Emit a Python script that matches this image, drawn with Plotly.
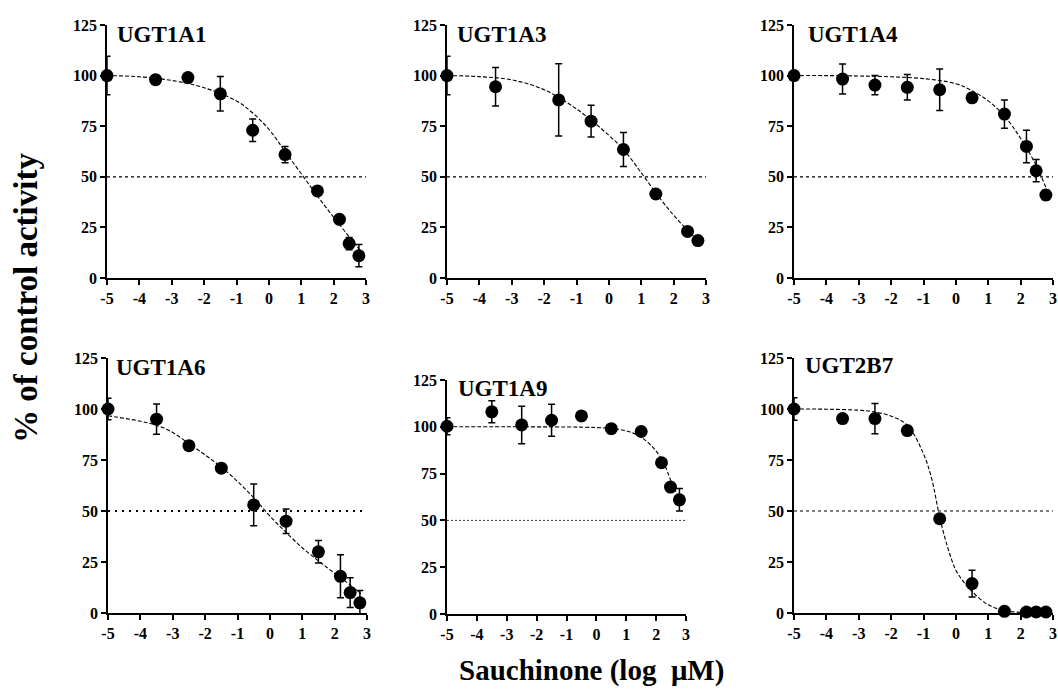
import plotly.graph_objects as go

W, H = 1058, 693

# ---------------- data ----------------
panel_names = ["UGT1A1", "UGT1A3", "UGT1A4", "UGT1A6", "UGT1A9", "UGT2B7"]

x_1a1 = [-5, -3.5, -2.5, -1.5, -0.5, 0.5, 1.5, 2.18, 2.48, 2.78]
y_1a1 = [100, 98, 99, 91, 73, 61, 43, 29, 17, 11]
e_1a1 = [9.5, 2, 1, 8.5, 5.5, 4, 1.5, 1.5, 3, 5.5]
fx_1a1 = [-5, -4, -3, -2, -1, -0.5, 0, 0.5, 1, 1.5, 2, 2.5, 2.85]
fy_1a1 = [100, 99.4, 97.6, 94, 87.5, 81.5, 73.5, 62.5, 51.5, 40.5, 30, 20, 13]

x_1a3 = [-5, -3.5, -1.55, -0.55, 0.45, 1.45, 2.43, 2.75]
y_1a3 = [100, 94.5, 88, 77.5, 63.5, 41.5, 23, 18.5]
e_1a3 = [9.5, 9.5, 17.8, 7.8, 8.4, 1, 1, 1]
fx_1a3 = [-5, -4, -3, -2, -1, 0, 0.5, 1, 1.5, 2, 2.5, 2.8]
fy_1a3 = [100, 99.5, 97.9, 93, 83.5, 70.5, 62.5, 52, 41, 31, 22.5, 18]

x_1a4 = [-5, -3.5, -2.5, -1.5, -0.5, 0.5, 1.5, 2.18, 2.48, 2.78]
y_1a4 = [100, 98.3, 95.3, 94.2, 93, 89, 81, 65, 53, 41]
e_1a4 = [0.5, 7.4, 4.8, 6.3, 10.3, 1, 7, 8, 5.5, 2.5]
fx_1a4 = [-5, -4, -3, -2, -1, 0, 0.5, 1, 1.5, 2, 2.5, 2.85]
fy_1a4 = [100, 100, 99.8, 99.4, 98.5, 96, 92.5, 87.5, 80, 69, 55, 42]

x_1a6 = [-5, -3.5, -2.5, -1.5, -0.5, 0.5, 1.5, 2.18, 2.48, 2.78]
y_1a6 = [100, 95, 82, 71, 53, 45, 30, 18, 10, 5]
e_1a6 = [5.3, 7.4, 1, 2, 10.2, 6, 5.5, 10.5, 7.3, 6]
fx_1a6 = [-5, -4, -3.5, -3, -2.5, -2, -1.5, -1, -0.5, 0, 0.5, 1, 1.5, 2, 2.5, 2.85]
fy_1a6 = [96.7, 94, 92, 88.5, 83, 77.5, 71.5, 64.5, 56.5, 47.5, 39.5, 32, 25.5, 19.5, 13.5, 9]

x_1a9 = [-5, -3.5, -2.5, -1.5, -0.5, 0.5, 1.5, 2.18, 2.48, 2.78]
y_1a9 = [100.3, 108, 101, 103.5, 105.8, 99, 97.5, 80.8, 67.8, 61]
e_1a9 = [4.6, 5.9, 10, 8.5, 1, 1, 1, 1, 1, 6]
fx_1a9 = [-5, -3, -1, 0, 0.5, 1, 1.5, 2, 2.3, 2.5, 2.8]
fy_1a9 = [100, 100, 99.9, 99.6, 99.1, 97.8, 94.5, 87, 79, 71, 61]

x_2b7 = [-5, -3.5, -2.5, -1.5, -0.5, 0.5, 1.5, 2.18, 2.48, 2.78]
y_2b7 = [100, 95.3, 95.3, 89.4, 46.2, 14.4, 0.8, 0.5, 0.5, 0.5]
e_2b7 = [5.5, 1, 7.4, 2, 1, 6.5, 0.5, 0.5, 0.5, 0.5]
fx_2b7 = [-5, -4, -3, -2.5, -2, -1.5, -1, -0.75, -0.5, -0.25, 0, 0.25, 0.5, 1, 1.5, 2, 2.8]
fy_2b7 = [100, 99.9, 99.4, 98.5, 96.5, 92, 78, 66, 47, 32, 21, 15, 10.5, 4, 1.2, 0.3, 0]

half_activity = 50
x_ticks = [-5, -4, -3, -2, -1, 0, 1, 2, 3]
y_ticks = [0, 25, 50, 75, 100, 125]
x_title = "Sauchinone (log  \u03bcM)"
y_title = "% of control activity"

panels = [
    (x_1a1, y_1a1, e_1a1, fx_1a1, fy_1a1),
    (x_1a3, y_1a3, e_1a3, fx_1a3, fy_1a3),
    (x_1a4, y_1a4, e_1a4, fx_1a4, fy_1a4),
    (x_1a6, y_1a6, e_1a6, fx_1a6, fy_1a6),
    (x_1a9, y_1a9, e_1a9, fx_1a9, fy_1a9),
    (x_2b7, y_2b7, e_2b7, fx_2b7, fy_2b7),
]

# ---------------- layout geometry (pixels) ----------------
# (left, right, top(y=125), bottom(y=0))
boxes = [
    (107, 366, 25, 278),
    (447, 706, 25, 278),
    (794, 1053, 25, 278),
    (108, 367, 358, 613),
    (447, 686, 380, 614),
    (794, 1053, 358, 613),
]
title_pos = [(115, 35), (455, 35), (806, 35), (114, 367), (456, 388), (803, 365)]
ref_styles = [
    dict(dash="3px,3px", width=1.2),
    dict(dash="3px,3px", width=1.2),
    dict(dash="3px,3px", width=1.2),
    dict(dash="2px,5px", width=2.0),
    dict(dash="2px,2px", width=0.8),
    dict(dash="3px,3px", width=1.2),
]

FONT = "Liberation Serif, Times New Roman, serif"

fig = go.Figure()
layout = dict(
    width=W, height=H,
    margin=dict(l=0, r=0, t=0, b=0),
    paper_bgcolor="white", plot_bgcolor="white",
    showlegend=False,
    font=dict(family=FONT, color="black"),
)

annotations = []
for i, (px, py, pe, fx, fy) in enumerate(panels):
    k = i + 1
    xa = "x" if k == 1 else f"x{k}"
    ya = "y" if k == 1 else f"y{k}"
    l, r, t, b = boxes[i]
    xdom = [l / W, r / W]
    ydom = [1 - b / H, 1 - t / H]
    axis_common = dict(
        showline=True, linecolor="black", linewidth=1.5,
        ticks="outside", ticklen=5, tickwidth=1.5, tickcolor="black",
        showgrid=False, zeroline=False, automargin=False,
        tickfont=dict(family=FONT, size=16, color="black", weight="bold"),
    )
    layout["xaxis" if k == 1 else f"xaxis{k}"] = dict(
        domain=xdom, range=[-5, 3], anchor=ya, tickvals=x_ticks,
        ticktext=[str(v) for v in x_ticks], **axis_common)
    layout["yaxis" if k == 1 else f"yaxis{k}"] = dict(
        domain=ydom, range=[0, 125], anchor=xa, tickvals=y_ticks,
        ticktext=[str(v) for v in y_ticks], **axis_common)

    # fitted curve
    fig.add_trace(go.Scatter(
        x=fx, y=fy, xaxis=xa, yaxis=ya, mode="lines",
        line=dict(color="black", width=1.1, dash="4px,2px", shape="spline"),
        cliponaxis=False, hoverinfo="skip"))
    # 50% reference line
    fig.add_trace(go.Scatter(
        x=[x_ticks[0], x_ticks[-1]], y=[half_activity, half_activity],
        xaxis=xa, yaxis=ya, mode="lines",
        line=dict(color="black", **ref_styles[i]), hoverinfo="skip"))
    # data points with error bars
    fig.add_trace(go.Scatter(
        x=px, y=py, xaxis=xa, yaxis=ya, mode="markers",
        marker=dict(color="black", size=13, symbol="circle"),
        error_y=dict(type="data", array=pe, visible=True, color="black",
                     thickness=1.5, width=3.5),
        cliponaxis=False))

    tx, ty = title_pos[i]
    annotations.append(dict(
        x=tx / W, y=1 - ty / H, xref="paper", yref="paper",
        xanchor="left", yanchor="middle", showarrow=False,
        text=f"<b>{panel_names[i]}</b>",
        font=dict(family=FONT, size=23, color="black")))

annotations.append(dict(
    x=591 / W, y=1 - 670 / H, xref="paper", yref="paper",
    xanchor="center", yanchor="middle", showarrow=False,
    text=f"<b>{x_title}</b>", font=dict(family=FONT, size=29, color="black")))
annotations.append(dict(
    x=26 / W, y=1 - 298 / H, xref="paper", yref="paper",
    xanchor="center", yanchor="middle", showarrow=False, textangle=-90,
    text=f"<b>{y_title}</b>", font=dict(family=FONT, size=33, color="black")))

layout["annotations"] = annotations
fig.update_layout(**layout)
fig.write_html(
    "out.html",
    config={"displayModeBar": False},
    post_script="document.body.style.margin='0';document.body.style.overflow='hidden';",
)
